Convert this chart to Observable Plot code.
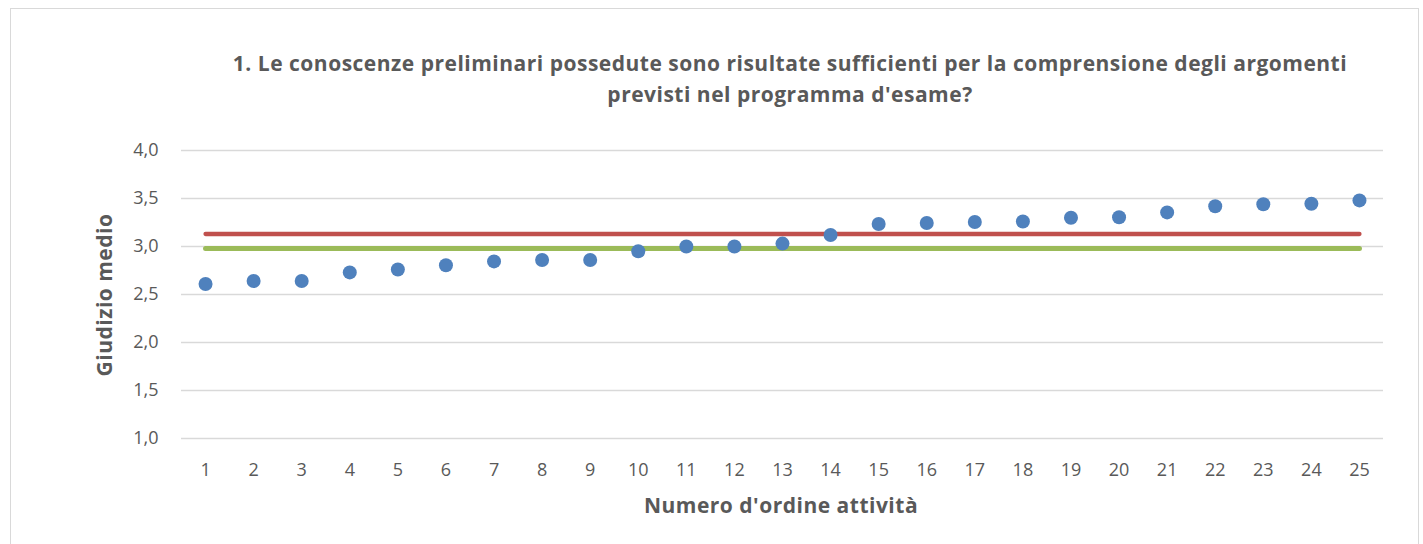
<!DOCTYPE html>
<html>
<head>
<meta charset="utf-8">
<script src="https://cdn.jsdelivr.net/npm/d3@7"></script>
<script src="https://cdn.jsdelivr.net/npm/@observablehq/plot@0.6"></script>
<style>
  html, body { margin: 0; padding: 0; background: #fff; }
  #wrap { position: relative; width: 1423px; height: 544px; overflow: hidden; font-family: "Open Sans", Lato, sans-serif; }
  #frame { position: absolute; left: 10px; top: 8px; width: 1409px; height: 560px; border: 1.5px solid #d9d9d9; box-sizing: border-box; }
  #chart { position: absolute; left: 0; top: 0; }
  .t { position: absolute; color: #595959; font-weight: bold; white-space: nowrap; letter-spacing: 0.5px; }
  #title { left: 790px; top: 48px; transform: translateX(-50%); text-align: center; font-size: 21px; line-height: 31px; }
  #xlab { left: 781px; top: 492px; transform: translateX(-50%); font-size: 21px; line-height: 26px; }
  #ylab { left: 104px; top: 295px; transform: translate(-50%, -50%) rotate(-90deg); font-size: 21px; line-height: 26px; }
</style>
</head>
<body>
<div id="wrap">
  <div id="frame"></div>
  <div id="chart"></div>
  <div class="t" id="title">1. Le conoscenze preliminari possedute sono risultate sufficienti per la comprensione degli argomenti<br>previsti nel programma d'esame?</div>
  <div class="t" id="xlab">Numero d'ordine attività</div>
  <div class="t" id="ylab">Giudizio medio</div>
</div>
<script>
const activities = [1,2,3,4,5,6,7,8,9,10,11,12,13,14,15,16,17,18,19,20,21,22,23,24,25];
const scores = [2.61,2.64,2.64,2.73,2.76,2.805,2.845,2.86,2.86,2.95,3.0,3.0,3.03,3.12,3.235,3.245,3.255,3.26,3.30,3.305,3.355,3.42,3.44,3.445,3.48];
const redLevel = 3.13;
const greenLevel = 2.98;
const yTicks = [1.0,1.5,2.0,2.5,3.0,3.5,4.0];

const points = activities.map((a, i) => ({a, v: scores[i]}));
const first = activities[0], last = activities[activities.length - 1];
const redLine = [{a: first, v: redLevel}, {a: last, v: redLevel}];
const greenLine = [{a: first, v: greenLevel}, {a: last, v: greenLevel}];
const fmt = d3.format(".1f");

const chart = Plot.plot({
  width: 1423,
  height: 544,
  marginTop: 150,
  marginBottom: 106,
  marginLeft: 181,
  marginRight: 40,
  style: {fontFamily: "'Open Sans', Lato, sans-serif", fontSize: "18px", color: "#595959", background: "transparent"},
  x: {domain: [0.5, 25.5], ticks: activities, tickSize: 0, tickPadding: 25, tickFormat: d => String(d), label: null},
  y: {domain: [1, 4], ticks: yTicks, tickSize: 0, tickPadding: 23, tickFormat: d => fmt(d).replace(".", ","), label: null},
  marks: [
    Plot.ruleY(yTicks, {stroke: "#d9d9d9", strokeWidth: 1.5}),
    Plot.line(redLine, {x: "a", y: "v", stroke: "#C0504D", strokeWidth: 4.3, strokeLinecap: "round"}),
    Plot.line(greenLine, {x: "a", y: "v", stroke: "#9BBB59", strokeWidth: 5, strokeLinecap: "round"}),
    Plot.dot(points, {x: "a", y: "v", r: 7, fill: "#4F81BD", stroke: "none"})
  ]
});
document.getElementById("chart").appendChild(chart);
</script>
</body>
</html>
